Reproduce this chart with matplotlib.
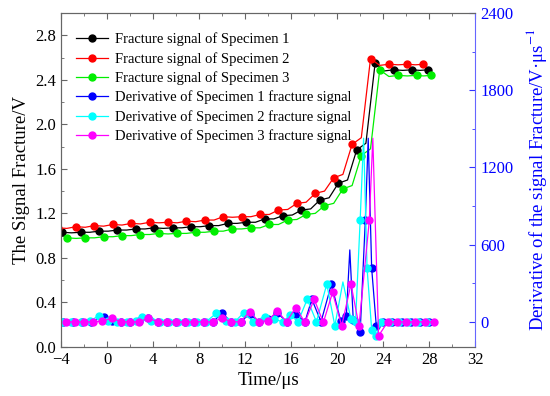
import matplotlib.pyplot as plt
from matplotlib.ticker import MultipleLocator

plt.rcParams['font.family'] = ['Liberation Serif', 'DejaVu Serif']
plt.rcParams['mathtext.fontset'] = 'stix'

# fracture signals (V), line points with a marker on every other point
red_t = [-4.3, -3.5, -2.7, -1.9, -1.1, -0.3, 0.5, 1.3, 2.1, 2.9, 3.7, 4.5, 5.3, 6.1, 6.9, 7.7,
         8.5, 9.3, 10.1, 10.9, 11.7, 12.5, 13.3, 14.1, 14.9, 15.7, 16.5, 17.3, 18.1, 18.9, 19.7,
         20.5, 21.3, 22.1, 22.9, 23.7, 24.5, 25.3, 26.1, 26.8, 27.5]
red_v = [1.07, 1.065, 1.08, 1.075, 1.09, 1.085, 1.10, 1.095, 1.11, 1.105, 1.12, 1.115, 1.12, 1.115,
         1.13, 1.125, 1.14, 1.14, 1.17, 1.165, 1.17, 1.17, 1.19, 1.19, 1.23, 1.235, 1.29, 1.30,
         1.38, 1.40, 1.52, 1.55, 1.82, 1.88, 2.59, 2.53, 2.54, 2.535, 2.54, 2.535, 2.54]

black_t = [-3.9, -3.1, -2.3, -1.5, -0.7, 0.1, 0.9, 1.7, 2.5, 3.3, 4.1, 4.9, 5.7, 6.5, 7.3, 8.1,
           8.9, 9.7, 10.5, 11.3, 12.1, 12.9, 13.7, 14.5, 15.3, 16.1, 16.9, 17.7, 18.5, 19.3, 20.1,
           20.9, 21.7, 22.5, 23.3, 24.1, 24.9, 25.7, 26.5, 27.2, 27.9]
black_v = [1.03, 1.025, 1.03, 1.03, 1.04, 1.04, 1.05, 1.05, 1.06, 1.06, 1.07, 1.065, 1.07, 1.07,
           1.08, 1.08, 1.09, 1.09, 1.11, 1.11, 1.12, 1.12, 1.15, 1.15, 1.18, 1.185, 1.23, 1.24,
           1.32, 1.34, 1.47, 1.50, 1.77, 1.83, 2.55, 2.48, 2.49, 2.485, 2.49, 2.485, 2.49]

green_t = [-3.5, -2.7, -1.9, -1.1, -0.3, 0.5, 1.3, 2.1, 2.9, 3.7, 4.5, 5.3, 6.1, 6.9, 7.7, 8.5,
           9.3, 10.1, 10.9, 11.7, 12.5, 13.3, 14.1, 14.9, 15.7, 16.5, 17.3, 18.1, 18.9, 19.7, 20.5,
           21.3, 22.1, 22.9, 23.7, 24.5, 25.3, 26.1, 26.9, 27.5, 28.2]
green_v = [0.98, 0.975, 0.98, 0.98, 0.99, 0.99, 1.00, 1.00, 1.01, 1.01, 1.02, 1.015, 1.02, 1.02,
           1.03, 1.03, 1.04, 1.04, 1.06, 1.06, 1.07, 1.07, 1.10, 1.10, 1.14, 1.145, 1.19, 1.20,
           1.27, 1.29, 1.42, 1.45, 1.72, 1.78, 2.49, 2.43, 2.44, 2.435, 2.44, 2.435, 2.44]

# derivatives (V/us)
blue_t = [-3.8, -3.0, -2.2, -1.4, -0.3, 0.4, 1.2, 2.0, 2.8, 3.6, 4.4, 5.2, 6.0, 6.8, 7.6, 8.4,
          9.2, 10.0, 10.8, 11.6, 12.4, 13.2, 14.0, 14.8, 15.6, 16.4, 17.2, 17.8, 18.6, 19.5, 20.3,
          20.8, 21.1, 21.4, 22.0, 22.45, 22.7, 23.0, 23.4, 24.0, 24.8, 25.6, 26.4, 27.2, 28.0]
blue_v = [0, 0, 0, 0, 41, 10, 0, 0, 10, 30, 0, 0, 0, 0, 0, 0,
          0, 67, 0, 0, 60, 0, 20, 70, 0, 60, 0, 176, 0, 293, 10,
          47, 559, 15, -80, 792, 1427, 417, -30, 0, 0, 0, 0, 0, 0]
blue_peak_t = [21.1, 22.7]

cyan_t = [-3.9, -3.1, -2.3, -1.5, -0.7, 0.1, 0.9, 1.7, 2.5, 3.0, 3.8, 4.6, 5.4, 6.2, 7.0, 7.8,
          8.6, 9.5, 10.3, 11.1, 11.9, 12.7, 13.7, 14.5, 15.3, 15.9, 16.6, 17.4, 18.2, 19.1, 19.8,
          20.5, 21.2, 21.6, 22.0, 22.3, 22.6, 23.0, 23.4, 23.8, 24.6, 25.4, 26.2, 27.0, 27.8]
cyan_v = [0, 0, 0, 5, 49, 5, -5, 0, 10, 41, 10, 0, 0, 0, 0, 0,
          0, 67, 10, 0, 72, 0, 41, 20, 0, 54, 0, 176, 0, 293, -31,
          310, 20, 0, 792, 1427, 417, -60, -114, 0, 0, 0, 0, 0, 0]
cyan_peak_t = [20.5, 22.3]

magenta_t = [-3.6, -2.8, -2.0, -1.2, -0.4, 0.4, 1.2, 2.0, 2.8, 3.6, 4.4, 5.2, 6.0, 6.8, 7.6, 8.4,
             9.2, 10.0, 10.8, 11.6, 12.4, 13.2, 14.0, 14.8, 15.6, 16.4, 17.2, 18.0, 18.8, 19.6,
             20.4, 21.2, 21.9, 22.8, 23.1, 23.6, 24.4, 25.2, 26.0, 26.8, 27.6, 28.4]
magenta_v = [0, 0, 0, 0, 5, 29, 0, 0, 0, 29, 0, 0, 0, 0, 0, 0,
             0, 29, 0, 0, 80, 0, 10, 85, 0, 111, -5, 176, -5, 228,
             -31, 293, -31, 792, 1427, -109, 0, 0, 0, 0, 0, 0]
magenta_peak_t = [23.1]

labels = ['Fracture signal of Specimen 1', 'Fracture signal of Specimen 2',
          'Fracture signal of Specimen 3', 'Derivative of Specimen 1 fracture signal',
          'Derivative of Specimen 2 fracture signal', 'Derivative of Specimen 3 fracture signal']

fig = plt.figure(figsize=(5.5, 3.96), dpi=100)
ax = fig.add_axes([0.111, 0.124, 0.753, 0.843])
ax2 = ax.twinx()

ms = 5
handles = []
for t, v, c, lab in [(black_t, black_v, 'black', labels[0]),
                     (red_t, red_v, '#ff0000', labels[1]),
                     (green_t, green_v, '#00ee00', labels[2])]:
    h, = ax.plot(t, v, color=c, lw=0.9, marker='o', ms=ms, markevery=2, label=lab)
    handles.append(h)

for t, v, pk, c, lab in [(blue_t, blue_v, blue_peak_t, '#0000ff', labels[3]),
                         (cyan_t, cyan_v, cyan_peak_t, '#00ffff', labels[4]),
                         (magenta_t, magenta_v, magenta_peak_t, '#ff00ff', labels[5])]:
    mk = [i for i in range(len(t)) if t[i] not in pk]
    h, = ax2.plot(t, v, color=c, lw=0.9, marker='o', ms=ms, markevery=mk, label=lab)
    handles.append(h)

ax.set_xlim(-4, 32)
ax.set_ylim(0, 3.0)
ax2.set_ylim(-195, 2400)

ax.xaxis.set_major_locator(MultipleLocator(4))
ax.xaxis.set_minor_locator(MultipleLocator(2))
ax.yaxis.set_minor_locator(MultipleLocator(0.2))
ax.set_yticks([0.0, 0.4, 0.8, 1.2, 1.6, 2.0, 2.4, 2.8])
ax2.yaxis.set_major_locator(MultipleLocator(600))
ax2.yaxis.set_minor_locator(MultipleLocator(300))

gray = '#666666'
ax.tick_params(which='both', direction='in', top=True, right=False, colors=gray,
               labelcolor='black', labelsize=12)
ax.tick_params(which='major', length=4)
ax.tick_params(which='minor', length=2)
ax2.tick_params(which='both', direction='in', colors='#3333ff', labelcolor='#0000ff', labelsize=12)
ax2.tick_params(which='major', length=4)
ax2.tick_params(which='minor', length=2)

for s in ['left', 'bottom', 'top']:
    ax.spines[s].set_color(gray)
    ax2.spines[s].set_color(gray)
ax2.spines['right'].set_color('#6666ff')
ax.spines['right'].set_visible(False)

ax.set_xlabel('Time/μs', fontsize=13.5, labelpad=3)
ax.set_ylabel('The Signal Fracture/V', fontsize=13.5, labelpad=4)
ax2.set_ylabel('Derivative of the signal Fracture/V·μs$^{-1}$', fontsize=13.5, color='#0000ff',
               labelpad=8)

ax2.legend(handles=handles, loc='upper left', bbox_to_anchor=(0.0, 0.985), frameon=False,
           fontsize=10.5, handlelength=2.2, labelspacing=0.38, borderaxespad=0.6,
           handletextpad=0.5)

fig.savefig('out.png', dpi=100)
